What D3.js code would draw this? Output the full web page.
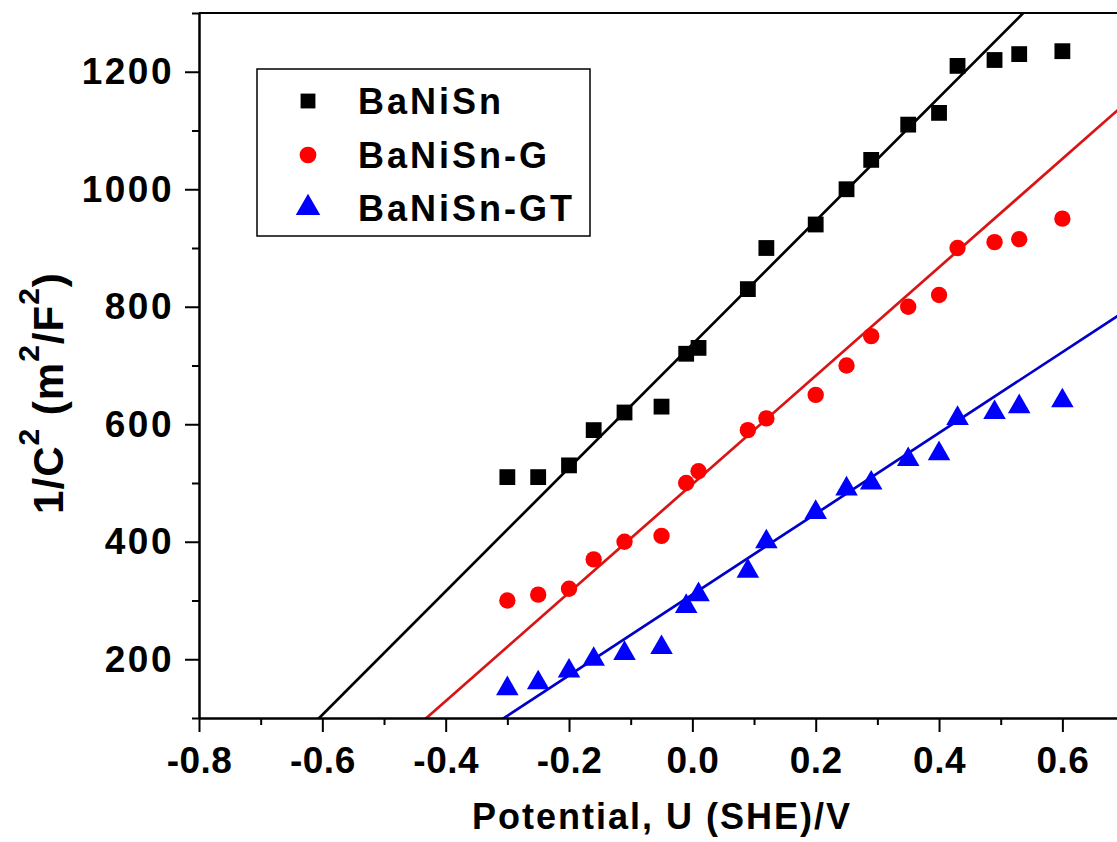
<!DOCTYPE html>
<html>
<head>
<meta charset="utf-8">
<script src="https://cdn.jsdelivr.net/npm/d3@7"></script>
<style>
  body { margin: 0; background: #fff; }
  text { font-family: Arial, "Liberation Sans", sans-serif; font-weight: bold; fill: #000; }
</style>
</head>
<body>
<svg id="chart" width="1117" height="842"></svg>
<script>
// potential values (V vs SHE), shared by all three series
const potential = [-0.30, -0.25, -0.20, -0.16, -0.11, -0.05, -0.01, 0.01, 0.09, 0.12,
                   0.20, 0.25, 0.29, 0.35, 0.40, 0.43, 0.49, 0.53, 0.60];

const seriesNames = ["BaNiSn", "BaNiSn-G", "BaNiSn-GT"];
const banisn   = [510, 510, 530, 590, 620, 630, 720, 730, 830, 900,
                  940, 1000, 1050, 1110, 1130, 1210, 1220, 1230, 1235];
const banisnG  = [300, 310, 320, 370, 400, 410, 500, 520, 590, 610,
                  650, 700, 750, 800, 820, 900, 910, 915, 950];
const banisnGT = [150, 160, 180, 200, 210, 220, 290, 310, 350, 400,
                  450, 490, 500, 540, 550, 610, 620, 630, 640];

// linear fits (Mott-Schottky lines): 1/C^2 = slope * U + intercept
const fitSlope     = [1051, 923, 688];
const fitIntercept = [736, 498, 310];

const xTicks = [-0.8, -0.6, -0.4, -0.2, 0.0, 0.2, 0.4, 0.6];
const xMinor = [-0.7, -0.5, -0.3, -0.1, 0.1, 0.3, 0.5, 0.7];
const yTicks = [200, 400, 600, 800, 1000, 1200];
const yMinor = [100, 300, 500, 700, 900, 1100, 1300];

const colors = ["#000000", "#ff0000", "#0000ff"];
const lineColors = ["#000000", "#d81414", "#0000c8"];
const shapes = [d3.symbolSquare, d3.symbolCircle, d3.symbolTriangle];
const markerSize = [250, 210, 220];

const svg = d3.select("#chart");

const x = d3.scaleLinear().domain([-0.8, 0.8]).range([199, 199 + 1.6 * 616.7]);
const y = d3.scaleLinear().domain([100, 1300]).range([718, 13]);

svg.append("clipPath").attr("id", "plotClip")
  .append("rect")
  .attr("x", x(-0.8)).attr("y", y(1300))
  .attr("width", x(0.8) - x(-0.8)).attr("height", y(100) - y(1300));

// fit lines
var fitG = svg.append("g").attr("clip-path", "url(#plotClip)");
fitSlope.forEach(function (m, i) {
  var line = d3.line().x(d => x(d)).y(d => y(m * d + fitIntercept[i]));
  fitG.append("path")
    .datum([-0.8, 0.8])
    .attr("d", line)
    .attr("fill", "none")
    .attr("stroke", lineColors[i])
    .attr("stroke-width", 2.7);
});

// scatter points
[banisn, banisnG, banisnGT].forEach(function (vals, i) {
  svg.append("g").selectAll("path")
    .data(vals)
    .join("path")
    .attr("transform", (d, j) => "translate(" + x(potential[j]) + "," + y(d) + ")")
    .attr("d", d3.symbol().type(shapes[i]).size(markerSize[i]))
    .attr("fill", colors[i]);
});

// axes
svg.append("g").attr("class", "xaxis").attr("transform", "translate(0," + y(100) + ")")
  .call(d3.axisBottom(x).tickValues(xTicks).tickSize(14).tickPadding(15).tickSizeOuter(0)
    .tickFormat(d => d.toFixed(1)));
svg.append("g").attr("transform", "translate(0," + y(100) + ")")
  .call(d3.axisBottom(x).tickValues(xMinor).tickSize(7).tickSizeOuter(0).tickFormat(""));

svg.append("g").attr("class", "yaxis").attr("transform", "translate(" + x(-0.8) + ",0)")
  .call(d3.axisLeft(y).tickValues(yTicks).tickSize(14).tickPadding(11).tickSizeOuter(0)
    .tickFormat(d3.format("d")));
svg.append("g").attr("transform", "translate(" + x(-0.8) + ",0)")
  .call(d3.axisLeft(y).tickValues(yMinor).tickSize(7).tickSizeOuter(0).tickFormat(""));

svg.selectAll(".domain").attr("stroke-width", 2);
svg.selectAll(".tick line").attr("stroke-width", 2);
svg.selectAll(".tick text")
  .style("font-size", "37px")
  .style("font-family", "Arial, 'Liberation Sans', sans-serif")
  .style("font-weight", "bold")
  .attr("fill", "#000");
svg.selectAll(".yaxis .tick text").style("letter-spacing", "2.5px");
svg.selectAll(".xaxis .tick text").style("letter-spacing", "0.5px");

// top frame line
svg.append("line")
  .attr("x1", x(-0.8)).attr("x2", x(0.8))
  .attr("y1", y(1300)).attr("y2", y(1300))
  .attr("stroke", "#000").attr("stroke-width", 2);

// axis titles
svg.append("text")
  .attr("x", 662).attr("y", 829)
  .attr("text-anchor", "middle")
  .style("font-size", "36px")
  .style("letter-spacing", "2px")
  .text("Potential, U (SHE)/V");

var yt = svg.append("text")
  .attr("transform", "translate(63,393) rotate(-90)")
  .attr("text-anchor", "middle")
  .style("font-size", "42px")
  .style("letter-spacing", "1px");
yt.append("tspan").text("1/C");
yt.append("tspan").attr("dy", -24).style("font-size", "30px").text("2");
yt.append("tspan").attr("dy", 24).text(" (m");
yt.append("tspan").attr("dy", -24).style("font-size", "30px").text("2");
yt.append("tspan").attr("dy", 24).text("/F");
yt.append("tspan").attr("dy", -24).style("font-size", "30px").text("2");
yt.append("tspan").attr("dy", 24).text(")");

// legend
var legend = svg.append("g");
legend.append("rect")
  .attr("x", 257).attr("y", 69).attr("width", 333).attr("height", 167)
  .attr("fill", "#fff").attr("stroke", "#000").attr("stroke-width", 1.5);
var rowY = [101, 155, 208];
seriesNames.forEach(function (name, i) {
  legend.append("path")
    .attr("transform", "translate(308," + rowY[i] + ")")
    .attr("d", d3.symbol().type(shapes[i]).size(i == 2 ? 260 : 220))
    .attr("fill", colors[i]);
  legend.append("text")
    .attr("x", 358).attr("y", rowY[i] + 13)
    .style("font-size", "36px")
    .style("letter-spacing", "3px")
    .text(name);
});
</script>
</body>
</html>
